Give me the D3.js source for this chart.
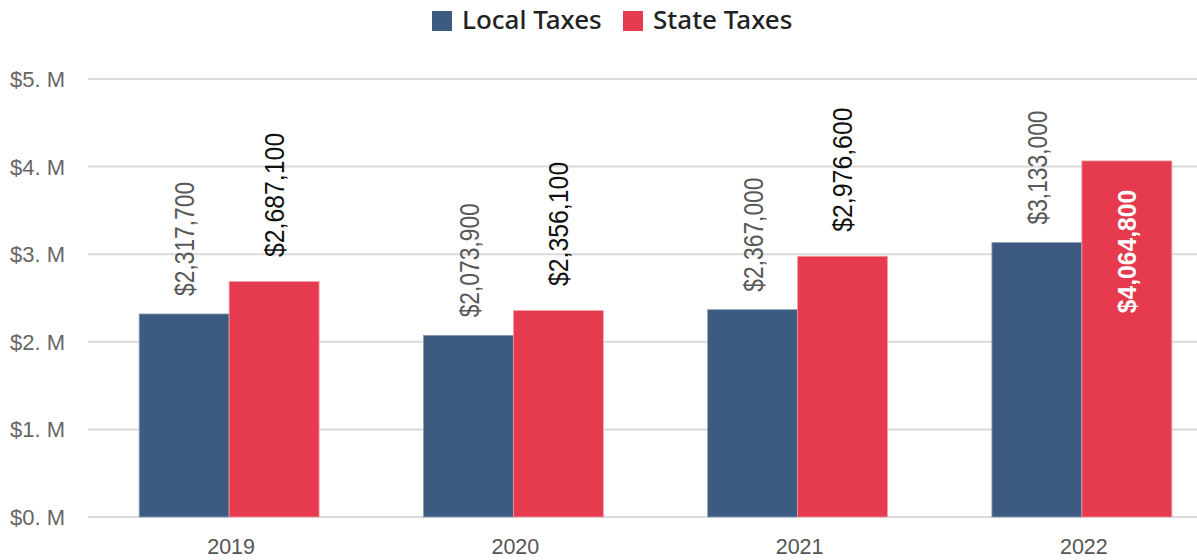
<!doctype html>
<html lang="en">
<head>
    <meta charset="UTF-8">
    <title>Local and State Taxes</title>
    <script src="https://d3js.org/d3.v7.min.js"></script>
    <style>
        body { margin: 0; background: #fff; }
        .tick-y { font: 22px "Liberation Sans", Arial, sans-serif; fill: #666; }
        .tick-x { font: 21.5px "Liberation Sans", Arial, sans-serif; fill: #555; }
        .legend { font-family: "Noto Sans", sans-serif; font-weight: 500; font-size: 26px; fill: #222; }
    </style>
</head>
<body>
<svg id="chart" width="1197" height="560"></svg>
<script>
    // data
    var years = ["2019", "2020", "2021", "2022"];
    var series = ["Local Taxes", "State Taxes"];
    var localTaxes = [2317700, 2073900, 2367000, 3133000];
    var stateTaxes = [2687100, 2356100, 2976600, 4064800];
    var yTicks = [0, 1000000, 2000000, 3000000, 4000000, 5000000];
    var colors = ["#3d5a80", "#e63a4e"];

    var width = 1197, height = 560;
    var svg = d3.select("#chart");

    var y = d3.scaleLinear().domain([0, 5000000]).range([517, 79]);
    var x0 = d3.scaleBand().domain(years).range([87, 1224]).paddingInner(0.367).paddingOuter(0.1835);
    var x1 = d3.scaleBand().domain(series).range([0, x0.bandwidth()]);

    // gridlines
    svg.append("g").selectAll("line")
        .data(yTicks)
        .enter().append("line")
        .attr("x1", 88).attr("x2", width)
        .attr("y1", function (d) { return y(d); })
        .attr("y2", function (d) { return y(d); })
        .attr("stroke", "#dadada")
        .attr("stroke-width", 2);

    svg.append("g").selectAll("text")
        .data(yTicks)
        .enter().append("text")
        .attr("class", "tick-y")
        .attr("x", 10)
        .attr("y", function (d) { return y(d); })
        .attr("dy", "0.36em")
        .text(function (d) { return "$" + (d / 1e6) + ". M"; });

    svg.append("g").selectAll("text")
        .data(years)
        .enter().append("text")
        .attr("class", "tick-x")
        .attr("x", function (d) { return x0(d) + x0.bandwidth() / 2 + 2; })
        .attr("y", 554)
        .attr("text-anchor", "middle")
        .text(function (d) { return d; });

    var rows = years.map(function (yr, i) {
        return { year: yr, values: [localTaxes[i], stateTaxes[i]] };
    });

    var fmt = d3.format("$,");

    var groups = svg.append("g").selectAll("g")
        .data(rows)
        .enter().append("g")
        .attr("transform", function (d) { return "translate(" + x0(d.year) + ",0)"; });

    groups.selectAll("rect")
        .data(function (d) { return d.values.map(function (v, j) { return { s: series[j], j: j, v: v }; }); })
        .enter().append("rect")
        .attr("x", function (d) { return x1(d.s); })
        .attr("width", x1.bandwidth())
        .attr("y", function (d) { return y(d.v); })
        .attr("height", function (d) { return y(0) - y(d.v); })
        .attr("fill", function (d) { return colors[d.j]; })
        .attr("stroke", function (d) { return d.j === 0 ? "#8ea0b8" : "#f0a0aa"; })
        .attr("stroke-width", 0.8);

    // value labels, rotated
    groups.selectAll("text")
        .data(function (d) { return d.values.map(function (v, j) { return { s: series[j], j: j, v: v }; }); })
        .enter().append("text")
        .attr("transform", function (d) {
            var cx = x1(d.s) + x1.bandwidth() / 2;
            var inside = d.j === 1 && d.v > 4000000;
            var yy, sc;
            if (d.j === 0) { yy = y(d.v) - 18; sc = 0.8; }
            else if (inside) { yy = y(d.v) + 29; sc = 0.93; }
            else { yy = y(d.v) - 24.5; sc = 0.92; }
            return "translate(" + cx + "," + yy + ") rotate(-90) scale(" + sc + ",1)";
        })
        .attr("text-anchor", function (d) { return (d.j === 1 && d.v > 4000000) ? "end" : "start"; })
        .attr("dy", "0.36em")
        .style("font-family", "'Liberation Sans', Arial, sans-serif")
        .style("font-size", function (d) { return d.j === 0 ? "28.5px" : (d.v > 4000000 ? "26.5px" : "27px"); })
        .style("font-weight", function (d) { return (d.j === 1 && d.v > 4000000) ? "bold" : "normal"; })
        .attr("fill", function (d) {
            if (d.j === 0) return "#595959";
            return d.v > 4000000 ? "#fff" : "#111";
        })
        .text(function (d) { return fmt(d.v); });

    // legend
    var legendX = [432, 623];
    var legend = svg.append("g").selectAll("g")
        .data(series)
        .enter().append("g")
        .attr("transform", function (d, i) { return "translate(" + legendX[i] + ",11)"; });
    legend.append("rect")
        .attr("width", 20).attr("height", 20)
        .attr("fill", function (d, i) { return colors[i]; });
    legend.append("text")
        .attr("class", "legend")
        .attr("x", 30)
        .attr("y", 18)
        .text(function (d) { return d; });
</script>
</body>
</html>
